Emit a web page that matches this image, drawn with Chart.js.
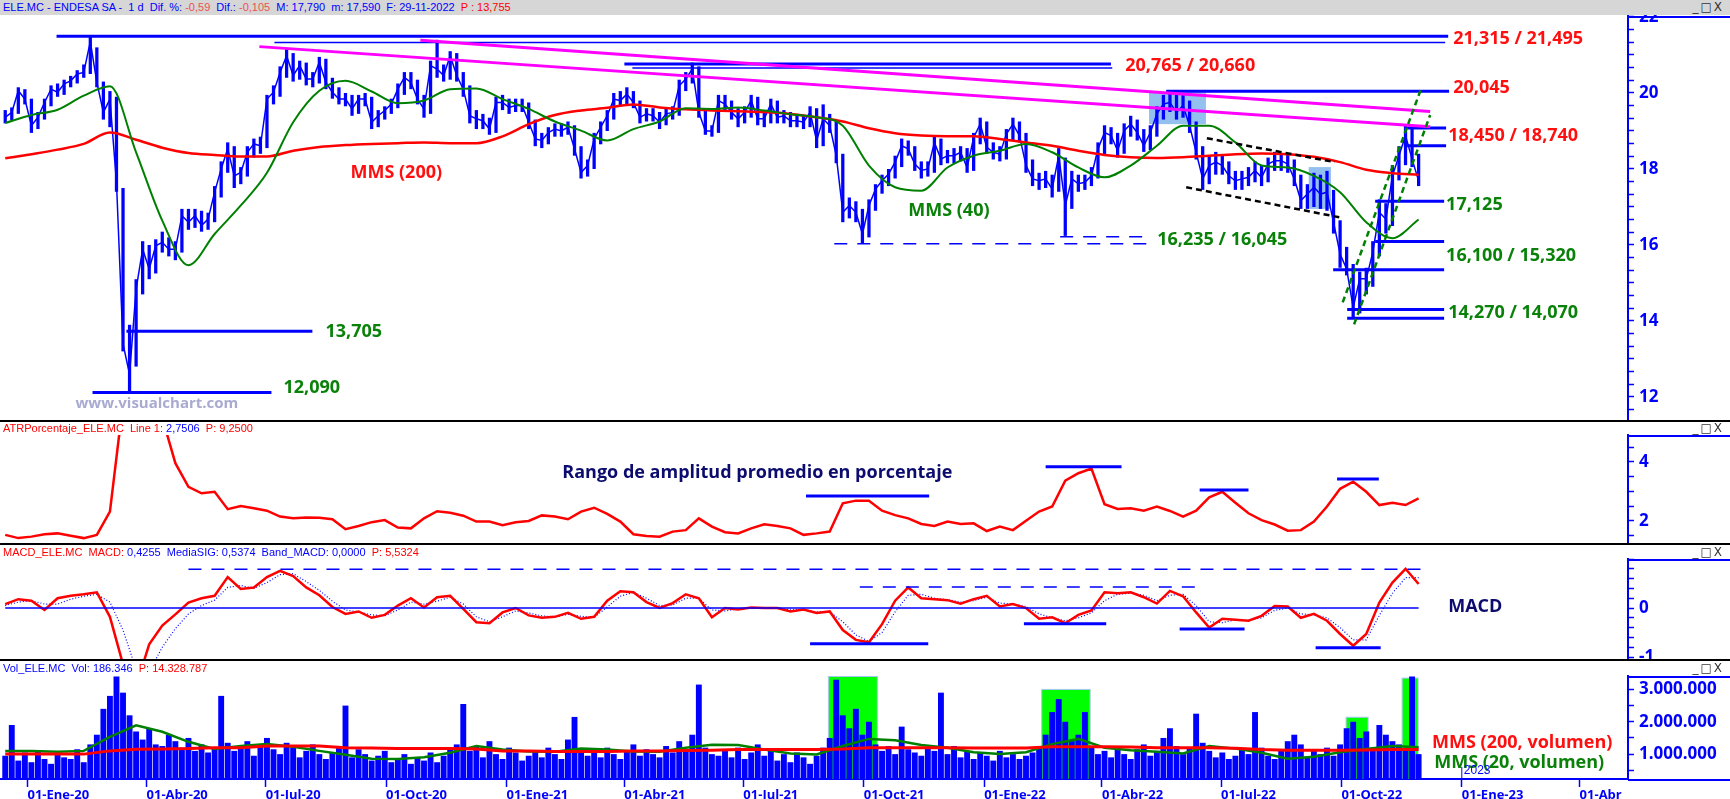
<!DOCTYPE html>
<html>
<head>
<meta charset="utf-8">
<script src="https://cdn.jsdelivr.net/npm/chart.js@4.4.0/dist/chart.umd.min.js"></script>
<style>
  body { margin: 0; background: #fff; width: 1730px; height: 799px; overflow: hidden; position: relative; font-family: "Liberation Sans", sans-serif; }
  canvas { position: absolute; left: 0; }
  #title { position: absolute; top: 0; left: 0; width: 1730px; height: 15px; background: #d6d6d6; z-index: 2; }
  .sep { position: absolute; left: 0; width: 1730px; height: 2px; background: #000; z-index: 2; }
  .hdr { position: absolute; left: 3px; font-size: 11px; line-height: 13px; white-space: pre; z-index: 3; }
  .win { position: absolute; right: 6px; font-size: 12px; line-height: 13px; font-family: "DejaVu Sans", sans-serif; color: #333; letter-spacing: 2px; z-index: 3; }
  .b { color: #0000ff; } .r { color: #ff0000; } .lr { color: #f05050; }
</style>
</head>
<body>
<canvas id="price" width="1730" height="407" style="top:14px"></canvas>
<canvas id="atr" width="1730" height="123" style="top:421px"></canvas>
<canvas id="macd" width="1730" height="116" style="top:544px"></canvas>
<canvas id="vol" width="1730" height="139" style="top:660px"></canvas>

<div id="title"></div>
<div class="hdr" style="top:1px"><span class="b">ELE.MC - ENDESA SA -  1 d  Dif. %: </span><span class="lr">-0,59</span><span class="b">  Dif.: </span><span class="lr">-0,105</span><span class="b">  M: 17,790  m: 17,590  F: 29-11-2022  </span><span class="r">P : 13,755</span></div>
<div class="win" style="top:1px">_□X</div>

<div class="sep" style="top:420px"></div>
<div class="hdr" style="top:422px"><span class="r">ATRPorcentaje_ELE.MC  Line 1: </span><span class="b">2,7506</span><span class="r">  P: 9,2500</span></div>
<div class="win" style="top:422px">_□X</div>

<div class="sep" style="top:543px"></div>
<div class="hdr" style="top:546px"><span class="r">MACD_ELE.MC  MACD: </span><span class="b">0,4255  MediaSIG: 0,5374  Band_MACD: 0,0000</span><span class="r">  P: 5,5324</span></div>
<div class="win" style="top:546px">_□X</div>

<div class="sep" style="top:659px"></div>
<div class="hdr" style="top:662px"><span class="b">Vol_ELE.MC  Vol: 186.346  </span><span class="r">P: 14.328.787</span></div>
<div class="win" style="top:662px">_□X</div>

<script>
// x values are days counted from 01-Ene-2020
const X_MIN = -21, X_MAX = 1223;

// quarter ticks on the date axis
const quarterDays = [0, 91, 182, 274, 366, 456, 547, 639, 731, 821, 912, 1004, 1096, 1186];
const quarterLabels = ['01-Ene-20', '01-Abr-20', '01-Jul-20', '01-Oct-20', '01-Ene-21', '01-Abr-21',
  '01-Jul-21', '01-Oct-21', '01-Ene-22', '01-Abr-22', '01-Jul-22', '01-Oct-22', '01-Ene-23', '01-Abr'];

// price, one sample every 5 days from 15-Dic-2019
const PRICE_START = -17, PRICE_STEP = 5;
const priceClose = [
  19.36, 19.49, 20.06, 19.84, 19.14, 19.36, 19.75, 20.10, 20.02, 20.24,
  20.32, 20.50, 20.54, 21.35, 20.28, 19.49, 19.84, 17.65, 13.40, 12.60,
  14.84, 15.89, 15.37, 15.98, 16.07, 15.89, 15.89, 16.77, 16.60, 16.77,
  16.51, 16.68, 17.39, 18.00, 18.53, 17.82, 17.91, 18.44, 18.66, 18.61,
  19.84, 20.02, 20.54, 20.98, 20.46, 20.72, 20.37, 20.37, 20.81, 20.28,
  20.02, 19.84, 19.84, 19.58, 19.84, 19.84, 19.23, 19.40, 19.54, 19.71,
  20.10, 20.41, 20.28, 19.84, 19.58, 20.72, 20.63, 20.46, 20.98, 20.46,
  20.10, 19.40, 19.32, 19.27, 19.05, 19.75, 19.75, 19.62, 19.67, 19.67,
  19.23, 18.79, 18.75, 18.96, 19.05, 19.00, 19.10, 18.53, 17.91, 18.09,
  18.79, 19.10, 19.40, 19.84, 19.80, 19.97, 19.75, 19.36, 19.45, 19.40,
  19.23, 19.45, 19.49, 20.19, 20.37, 20.63, 19.49, 19.00, 19.00, 19.80,
  19.71, 19.49, 19.32, 19.49, 19.80, 19.32, 19.32, 19.71, 19.36, 19.40,
  19.27, 19.27, 19.23, 19.49, 18.75, 19.32, 19.14, 18.35, 16.86, 17.04,
  16.86, 16.29, 17.04, 17.47, 17.69, 17.87, 18.18, 18.61, 18.53, 18.13,
  17.96, 18.00, 18.70, 18.26, 18.35, 18.35, 18.44, 18.04, 18.83, 19.18,
  18.57, 18.44, 18.39, 18.92, 19.18, 18.88, 18.09, 17.74, 17.69, 17.74,
  17.47, 18.35, 17.04, 17.74, 17.61, 17.65, 17.82, 18.53, 18.96, 18.88,
  18.48, 19.01, 19.18, 18.96, 18.61, 18.96, 19.45, 19.71, 19.75, 19.49,
  19.67, 19.14, 18.44, 17.74, 18.09, 18.18, 18.09, 17.82, 17.69, 17.74,
  17.78, 17.96, 17.78, 18.13, 18.22, 18.22, 18.13, 17.74, 17.17, 17.34,
  17.52, 17.34, 17.39, 16.60, 15.76, 15.37, 14.35, 15.11, 15.11, 15.81,
  16.86, 16.68, 17.82, 18.35, 18.88, 18.26, 17.69
];
const priceLow = [
  19.20, 19.28, 19.45, 19.70, 18.95, 19.05, 19.30, 19.65, 19.90, 19.95,
  20.15, 20.25, 20.40, 20.50, 20.15, 19.30, 19.10, 17.40, 13.20, 12.09,
  12.80, 14.70, 15.10, 15.25, 15.80, 15.70, 15.60, 15.80, 16.40, 16.45,
  16.35, 16.40, 16.60, 17.25, 17.90, 17.50, 17.60, 17.80, 18.30, 18.40,
  18.55, 19.70, 19.90, 20.40, 20.30, 20.35, 20.20, 20.15, 20.25, 20.10,
  19.85, 19.70, 19.65, 19.40, 19.45, 19.65, 19.05, 19.10, 19.30, 19.45,
  19.60, 19.95, 20.10, 19.70, 19.35, 19.45, 20.40, 20.30, 20.35, 20.30,
  19.90, 19.20, 19.05, 19.05, 18.90, 18.95, 19.55, 19.45, 19.50, 19.50,
  19.05, 18.60, 18.55, 18.65, 18.85, 18.85, 18.90, 18.35, 17.75, 17.80,
  18.00, 18.65, 19.00, 19.30, 19.65, 19.70, 19.60, 19.20, 19.25, 19.25,
  19.05, 19.15, 19.30, 19.40, 20.05, 20.25, 19.35, 18.90, 18.85, 18.95,
  19.55, 19.30, 19.10, 19.20, 19.35, 19.15, 19.10, 19.20, 19.20, 19.20,
  19.10, 19.10, 19.05, 19.10, 18.55, 18.60, 18.95, 18.15, 16.60, 16.70,
  16.60, 16.05, 16.20, 16.90, 17.35, 17.55, 17.75, 18.05, 18.35, 17.95,
  17.75, 17.80, 17.90, 18.10, 18.15, 18.15, 18.20, 17.90, 17.95, 18.65,
  18.40, 18.25, 18.20, 18.25, 18.75, 18.70, 17.90, 17.55, 17.45, 17.50,
  17.25, 17.40, 16.24, 16.95, 17.40, 17.45, 17.55, 17.75, 18.35, 18.65,
  18.30, 18.40, 18.85, 18.75, 18.45, 18.50, 18.85, 19.30, 19.50, 19.30,
  19.35, 18.95, 18.25, 17.45, 17.60, 17.85, 17.85, 17.60, 17.45, 17.45,
  17.55, 17.65, 17.55, 17.65, 17.95, 17.95, 17.90, 17.55, 16.95, 16.95,
  17.00, 16.95, 16.90, 16.30, 15.40, 15.20, 14.07, 14.20, 14.70, 14.90,
  15.70, 16.30, 16.50, 17.70, 18.10, 18.05, 17.55
];
const priceHigh = [
  19.55, 19.62, 20.15, 20.10, 19.85, 19.50, 19.85, 20.20, 20.25, 20.35,
  20.45, 20.60, 20.75, 21.50, 21.20, 20.30, 20.05, 19.90, 17.50, 13.90,
  15.10, 16.10, 16.00, 16.15, 16.35, 16.20, 16.10, 16.95, 16.95, 16.95,
  16.90, 16.85, 17.55, 18.20, 18.70, 18.60, 18.05, 18.60, 18.80, 18.85,
  19.95, 20.20, 20.70, 21.15, 21.05, 20.85, 20.80, 20.55, 20.95, 20.90,
  20.40, 20.15, 20.00, 19.95, 19.95, 20.00, 19.90, 19.55, 19.65, 19.85,
  20.25, 20.55, 20.55, 20.35, 19.95, 20.85, 21.40, 20.75, 21.10, 21.05,
  20.55, 20.20, 19.55, 19.45, 19.35, 19.90, 19.95, 19.85, 19.85, 19.85,
  19.75, 19.30, 18.95, 19.10, 19.20, 19.20, 19.25, 19.15, 18.60, 18.25,
  18.95, 19.25, 19.55, 20.00, 20.05, 20.15, 20.05, 19.80, 19.60, 19.60,
  19.50, 19.60, 19.65, 20.35, 20.55, 20.80, 20.70, 19.55, 19.15, 19.95,
  19.95, 19.80, 19.60, 19.65, 19.95, 19.90, 19.50, 19.85, 19.80, 19.55,
  19.50, 19.45, 19.40, 19.65, 19.60, 19.70, 19.45, 19.25, 18.40, 17.25,
  17.15, 16.95, 17.20, 17.60, 17.85, 18.00, 18.35, 18.80, 18.75, 18.60,
  18.20, 18.20, 18.85, 18.80, 18.50, 18.55, 18.60, 18.55, 18.95, 19.35,
  19.25, 18.70, 18.60, 19.05, 19.35, 19.25, 18.95, 18.25, 17.90, 17.95,
  17.85, 18.55, 18.30, 17.95, 17.85, 17.85, 18.05, 18.70, 19.15, 19.10,
  18.95, 19.20, 19.40, 19.30, 19.05, 19.15, 19.65, 19.95, 20.05, 19.95,
  19.95, 19.80, 19.25, 18.60, 18.35, 18.45, 18.35, 18.20, 17.95, 17.95,
  18.05, 18.20, 18.10, 18.30, 18.45, 18.40, 18.40, 18.25, 17.85, 17.60,
  17.90, 17.85, 17.95, 17.45, 16.65, 15.95, 15.50, 15.30, 15.40, 16.10,
  17.20, 17.10, 18.10, 18.60, 19.15, 19.10, 18.40
];

// daily volume (millions), same dates as the price samples
const volume = [
  0.95, 1.90, 0.80, 1.05, 0.75, 1.10, 0.85, 0.70, 1.00, 0.90,
  0.85, 1.15, 0.75, 1.30, 1.60, 2.40, 2.80, 3.40, 2.90, 2.20,
  1.70, 1.45, 1.80, 1.30, 1.25, 1.60, 1.40, 1.20, 1.50, 1.10,
  1.30, 1.05, 1.20, 2.80, 1.35, 1.10, 1.25, 1.40, 0.95, 1.30,
  1.50, 1.15, 1.00, 1.35, 1.20, 0.90, 1.10, 1.30, 1.00, 0.85,
  1.05, 1.25, 2.50, 0.90, 1.15, 1.00, 0.80, 0.95, 1.10, 0.75,
  0.85, 1.00, 0.70, 0.90, 0.80, 1.05, 0.75, 0.95, 1.15, 1.30,
  2.55, 1.10, 1.25, 0.90, 1.40, 1.00, 0.85, 1.20, 1.05, 0.80,
  0.95, 1.10, 0.90, 1.20, 1.00, 0.85, 1.45, 2.15, 1.10, 0.95,
  1.05, 0.90, 1.20, 1.00, 0.85, 1.10, 1.30, 0.95, 1.15, 1.00,
  0.90, 1.25, 1.05, 1.40, 1.10, 1.60, 3.15, 1.20, 1.00, 0.95,
  1.10, 0.90, 1.20, 0.85, 1.05, 1.30, 0.95, 1.15, 0.80, 1.00,
  0.75, 1.05, 0.90, 0.70, 0.95, 1.20, 1.50, 3.30, 2.20, 1.80,
  2.40, 1.60, 2.00, 1.30, 1.10, 1.25, 1.00, 1.85, 1.15, 1.05,
  0.95, 1.20, 1.10, 2.90, 1.00, 1.25, 0.90, 1.10, 0.85, 1.05,
  0.95, 0.80, 1.10, 0.90, 1.00, 0.85, 0.95, 1.05, 1.20, 1.60,
  2.30, 2.70, 2.00, 1.40, 1.60, 2.30, 1.20, 1.00, 1.10, 0.90,
  1.20, 1.00, 0.85, 1.15, 1.30, 0.95, 1.10, 1.50, 1.80, 1.25,
  1.00, 1.20, 2.25, 1.35, 1.10, 0.90, 1.05, 0.85, 0.95, 1.15,
  1.00, 2.30, 1.20, 0.95, 0.85, 1.10, 1.40, 1.60, 1.30, 0.90,
  1.15, 1.00, 1.20, 0.95, 1.30, 1.80, 2.00, 1.50, 1.70, 1.20,
  1.90, 1.60, 1.40, 1.30, 1.10, 3.40, 1.00
];

// moving averages, one every 20 days
const MA_START = -17, MA_STEP = 20;
const mms200 = [
  18.28, 18.39, 18.51, 18.66, 18.96, 18.77, 18.56, 18.42, 18.37, 18.33,
  18.33, 18.48, 18.58, 18.63, 18.66, 18.68, 18.70, 18.68, 18.68, 18.86,
  19.18, 19.42, 19.54, 19.61, 19.70, 19.62, 19.57, 19.54, 19.52, 19.50,
  19.45, 19.36, 19.25, 19.07, 18.94, 18.88, 18.86, 18.86, 18.79, 18.70,
  18.61, 18.48, 18.37, 18.31, 18.29, 18.31, 18.35, 18.39, 18.41, 18.39,
  18.32, 18.18, 17.98, 17.89, 17.85
];
const mms40 = [
  19.21, 19.42, 19.56, 19.93, 20.18, 18.44, 16.64, 15.47, 16.29, 17.04,
  17.90, 19.23, 20.06, 20.32, 20.04, 19.73, 19.80, 20.10, 20.12, 19.84,
  19.58, 19.25, 19.01, 18.75, 19.05, 19.25, 19.60, 19.58, 19.62, 19.54,
  19.44, 19.36, 19.14, 18.09, 17.52, 17.43, 18.04, 18.35, 18.48, 18.66,
  18.44, 18.04, 17.78, 18.09, 18.61, 19.14, 19.14, 18.70, 18.09, 18.04,
  17.82, 17.39, 16.60, 16.18, 16.67
];
const volMms20 = [
  1.10, 1.10, 1.07, 1.10, 1.53, 1.89, 1.69, 1.38, 1.16, 1.25,
  1.31, 1.23, 1.10, 0.98, 0.86, 0.85, 0.90, 1.04, 1.25, 1.14,
  1.08, 1.07, 1.17, 1.14, 1.08, 1.07, 1.20, 1.29, 1.28, 1.14,
  1.02, 0.99, 1.25, 1.47, 1.43, 1.28, 1.20, 1.06, 1.00, 1.06,
  1.31, 1.47, 1.20, 1.12, 1.07, 1.02, 1.25, 1.17, 1.04, 0.86,
  0.92, 1.06, 1.16, 1.25, 1.21
];
const volMms200 = [
  1.00, 1.00, 1.00, 1.00, 1.10, 1.15, 1.16, 1.17, 1.20, 1.20,
  1.25, 1.25, 1.25, 1.20, 1.19, 1.17, 1.17, 1.17, 1.16, 1.10,
  1.10, 1.08, 1.08, 1.08, 1.10, 1.10, 1.11, 1.12, 1.14, 1.14,
  1.14, 1.14, 1.16, 1.20, 1.20, 1.20, 1.20, 1.19, 1.19, 1.19,
  1.23, 1.23, 1.23, 1.22, 1.20, 1.20, 1.20, 1.18, 1.14, 1.12,
  1.12, 1.12, 1.13, 1.14, 1.14
];

// indicators, one every 10 days
const IND_START = -17, IND_STEP = 10;
const atrPct = [
  1.53, 1.42, 1.47, 1.55, 1.58, 1.50, 1.42, 1.53, 2.32, 6.00,
  8.50, 9.25, 5.50, 3.96, 3.16, 2.94, 2.99, 2.40, 2.51, 2.43,
  2.35, 2.15, 2.09, 2.12, 2.11, 2.06, 1.72, 1.83, 1.96, 2.03,
  1.78, 1.75, 2.09, 2.33, 2.28, 2.18, 1.98, 1.98, 1.86, 1.96,
  2.00, 2.19, 2.15, 2.06, 2.32, 2.45, 2.24, 1.98, 1.55, 1.49,
  1.47, 1.64, 1.69, 2.09, 1.81, 1.62, 1.58, 1.75, 1.89, 1.83,
  1.75, 1.53, 1.58, 1.64, 2.60, 2.69, 2.69, 2.35, 2.20, 2.09,
  1.90, 1.83, 1.98, 1.90, 1.92, 1.66, 1.81, 1.69, 2.01, 2.32,
  2.49, 3.37, 3.62, 3.78, 2.57, 2.41, 2.43, 2.35, 2.49, 2.34,
  2.15, 2.35, 2.80, 2.99, 2.62, 2.26, 2.03, 1.88, 1.67, 1.69,
  1.98, 2.49, 3.09, 3.33, 2.99, 2.54, 2.62, 2.54, 2.77
];
const macd = [
  0.08, 0.18, 0.15, -0.04, 0.20, 0.25, 0.28, 0.32, -0.18, -1.15,
  -1.60, -0.74, -0.36, -0.13, 0.11, 0.20, 0.25, 0.63, 0.39, 0.42,
  0.63, 0.76, 0.65, 0.42, 0.26, 0.02, -0.12, -0.07, -0.20, -0.14,
  0.05, 0.20, 0.01, 0.22, 0.25, -0.02, -0.29, -0.31, -0.09, 0.00,
  -0.15, -0.20, -0.18, -0.10, -0.22, -0.18, 0.15, 0.34, 0.32, 0.12,
  0.00, 0.10, 0.28, 0.20, -0.19, 0.00, -0.03, 0.01, 0.00, 0.00,
  -0.07, -0.03, -0.10, -0.07, -0.45, -0.65, -0.70, -0.33, 0.15, 0.42,
  0.20, 0.18, 0.16, 0.09, 0.18, 0.25, 0.03, 0.08, 0.00, -0.22,
  -0.19, -0.31, -0.14, -0.05, 0.32, 0.30, 0.32, 0.22, 0.09, 0.35,
  0.24, -0.09, -0.40, -0.22, -0.24, -0.26, -0.16, 0.04, 0.03, -0.20,
  -0.12, -0.26, -0.53, -0.77, -0.53, 0.11, 0.52, 0.80, 0.49
];
const macdSignal = [
  0.05, 0.12, 0.15, 0.08, 0.08, 0.18, 0.24, 0.28, 0.12, -0.45,
  -1.25, -1.30, -0.80, -0.42, -0.12, 0.05, 0.16, 0.42, 0.46, 0.40,
  0.52, 0.68, 0.70, 0.54, 0.36, 0.14, -0.04, -0.08, -0.14, -0.16,
  -0.04, 0.12, 0.08, 0.14, 0.22, 0.08, -0.18, -0.28, -0.18, -0.06,
  -0.10, -0.16, -0.18, -0.13, -0.17, -0.19, 0.02, 0.24, 0.32, 0.20,
  0.05, 0.06, 0.20, 0.20, -0.04, -0.06, -0.02, 0.00, 0.00, 0.00,
  -0.04, -0.04, -0.08, -0.08, -0.28, -0.55, -0.68, -0.50, -0.08, 0.26,
  0.28, 0.20, 0.17, 0.12, 0.15, 0.22, 0.10, 0.08, 0.03, -0.12,
  -0.20, -0.26, -0.20, -0.10, 0.15, 0.28, 0.30, 0.26, 0.15, 0.26,
  0.28, 0.05, -0.28, -0.30, -0.24, -0.25, -0.20, -0.05, 0.00, -0.12,
  -0.14, -0.20, -0.40, -0.65, -0.65, -0.15, 0.30, 0.62, 0.62
];

// axis tick labels
const priceTickLabels = [12, 14, 16, 18, 20, 22];
const atrTickLabels = [2, 4];
const macdTickLabels = [-1, 0];
const volTickValues = [1, 2, 3];
const volTickLabels = ['1.000.000', '2.000.000', '3.000.000'];

const BLUE = '#0000ff';
const RED = '#ff0000';
const GREEN = '#008000';
const MAGENTA = '#ff00ff';
const LABEL_RED = '#ff1010';
const LABEL_GREEN = '#0a820a';
const BIG = 'bold 18px "Open Sans"';
const NAVY = '#0c0c6e';

function pts(values, start, step) {
  return values.map((v, i) => ({ x: start + step * i, y: v }));
}

function spans(lows, highs, start, step) {
  return lows.map((lo, i) => ({ x: start + step * i, y: [lo, highs[i]] }));
}

function range(from, to, step) {
  const out = [];
  for (let v = from; v <= to + 1e-9; v += step) out.push(Math.round(v * 1000) / 1000);
  return out;
}

// Drawings placed in data coordinates (days, values).
function hline(v, x0, x1, color, width, dash) {
  return { type: 'line', x0, y0: v, x1, y1: v, color, width, dash };
}
function seg(x0, y0, x1, y1, color, width, dash) {
  return { type: 'line', x0, y0, x1, y1, color, width, dash };
}
function label(text, x, y, color, font) {
  return { type: 'text', text, x, y, color, font: font || BIG };
}
function box(x0, y0, x1, y1, fill, stroke) {
  return { type: 'box', x0, y0, x1, y1, fill, stroke };
}

function drawItems(chart, items) {
  const { ctx, chartArea: a } = chart;
  const x = chart.scales.x, y = chart.scales.y;
  items.forEach(it => {
    ctx.save();
    if (it.type === 'box') {
      ctx.beginPath();
      ctx.rect(a.left, a.top, a.right - a.left, a.bottom - a.top);
      ctx.clip();
      const px0 = x.getPixelForValue(it.x0), px1 = x.getPixelForValue(it.x1);
      const py0 = y.getPixelForValue(it.y0), py1 = y.getPixelForValue(it.y1);
      ctx.fillStyle = it.fill;
      ctx.fillRect(px0, py1, px1 - px0, py0 - py1);
      if (it.stroke) {
        ctx.strokeStyle = it.stroke;
        ctx.lineWidth = 1;
        ctx.strokeRect(px0, py1, px1 - px0, py0 - py1);
      }
    } else if (it.type === 'line') {
      ctx.strokeStyle = it.color;
      ctx.lineWidth = it.width || 1;
      ctx.setLineDash(it.dash || []);
      ctx.beginPath();
      ctx.moveTo(x.getPixelForValue(it.x0), y.getPixelForValue(it.y0));
      ctx.lineTo(x.getPixelForValue(it.x1), y.getPixelForValue(it.y1));
      ctx.stroke();
    } else if (it.type === 'text') {
      ctx.fillStyle = it.color;
      ctx.font = it.font;
      ctx.textAlign = 'left';
      ctx.textBaseline = 'middle';
      ctx.fillText(it.text, x.getPixelForValue(it.x), y.getPixelForValue(it.y));
    }
    ctx.restore();
  });
}

function overlay(back, front) {
  return {
    id: 'overlay',
    beforeDatasetsDraw(chart) { drawItems(chart, back); },
    afterDatasetsDraw(chart) { drawItems(chart, front); }
  };
}

// short horizontal line on top of the right axis
const axisTop = {
  id: 'axisTop',
  afterDraw(chart) {
    const { ctx, chartArea: a, width } = chart;
    ctx.save();
    ctx.strokeStyle = BLUE;
    ctx.lineWidth = 2;
    ctx.beginPath();
    ctx.moveTo(a.right, a.top + 1);
    ctx.lineTo(width, a.top + 1);
    ctx.stroke();
    ctx.restore();
  }
};

// bottom axis line runs under the right scale, plus the 2023 year mark
const yearMark = {
  id: 'yearMark',
  afterDraw(chart) {
    const { ctx, chartArea: a, width } = chart;
    const px = chart.scales.x.getPixelForValue(1096);
    ctx.save();
    ctx.strokeStyle = BLUE;
    ctx.lineWidth = 2;
    ctx.beginPath();
    ctx.moveTo(a.right, a.bottom + 1);
    ctx.lineTo(width, a.bottom + 1);
    ctx.stroke();
    ctx.lineWidth = 1;
    ctx.beginPath();
    ctx.moveTo(px, a.bottom - 12);
    ctx.lineTo(px, a.bottom);
    ctx.stroke();
    ctx.fillStyle = BLUE;
    ctx.font = '12px "Liberation Sans"';
    ctx.textBaseline = 'middle';
    ctx.fillText('2023', px + 2, a.bottom - 8);
    ctx.restore();
  }
};

function yAxis(min, max, ticks, labelFor) {
  return {
    position: 'right',
    min, max,
    afterBuildTicks: s => { s.ticks = ticks.map(v => ({ value: v })); },
    afterFit: s => { s.width = 102; s.paddingTop = 0; s.paddingBottom = 0; },
    border: { color: BLUE, width: 2 },
    grid: { drawOnChartArea: false, color: BLUE, tickLength: 6, tickWidth: 1.5 },
    ticks: {
      autoSkip: false,
      padding: 5,
      color: BLUE,
      font: { family: 'Open Sans', weight: 'bold', size: 17 },
      callback: labelFor
    }
  };
}

function hiddenX() {
  return { type: 'linear', min: X_MIN, max: X_MAX, display: false, offset: false };
}

function makeChart(id, padTop, datasets, scales, plugins) {
  return new Chart(document.getElementById(id), {
    type: 'line',
    data: { datasets },
    options: {
      responsive: false,
      animation: false,
      events: [],
      layout: { padding: { top: padTop, left: 0, right: 0, bottom: 0 } },
      plugins: { legend: { display: false }, tooltip: { enabled: false } },
      scales
    },
    plugins
  });
}

function lineSet(data, color, width, extra) {
  return Object.assign({ data, borderColor: color, borderWidth: width, pointRadius: 0, fill: false }, extra || {});
}

// ---------- price panel ----------
const priceBack = [
  box(857, 19.18, 900.5, 20.02, '#94c0f0'),
  box(979, 16.95, 996, 18.05, '#94c0f0')
];
const priceFront = [
  hline(21.495, 22.2, 1085.6, BLUE, 3),
  hline(21.33, 188.7, 1083.3, BLUE, 1.5),
  hline(20.765, 456.1, 827.9, BLUE, 3),
  hline(20.66, 462.2, 828.9, BLUE, 1.5),
  hline(20.045, 870.1, 1086.3, BLUE, 3),
  hline(19.08, 1054.2, 1084.0, BLUE, 3),
  hline(18.61, 1054.2, 1084.0, BLUE, 3),
  hline(17.15, 1029.8, 1082.5, BLUE, 3),
  hline(16.09, 1029.8, 1082.5, BLUE, 3),
  hline(15.35, 997.7, 1082.5, BLUE, 3),
  hline(14.30, 1008.4, 1082.5, BLUE, 3),
  hline(14.07, 1008.4, 1082.5, BLUE, 3),
  hline(13.73, 75.6, 217.7, BLUE, 3),
  hline(12.12, 49.7, 186.4, BLUE, 3),
  hline(16.03, 616.5, 859.4, BLUE, 1.5, [13, 10]),
  hline(16.22, 789.1, 857.9, BLUE, 1.5, [13, 10]),
  seg(177.2, 21.22, 1071.8, 19.11, MAGENTA, 3),
  seg(300.2, 21.39, 1071.8, 19.51, MAGENTA, 3),
  seg(901.2, 18.81, 999, 18.18, '#000000', 2.5, [6, 4]),
  seg(885.4, 17.52, 1003.8, 16.72, '#000000', 2.5, [6, 4]),
  seg(1005, 14.49, 1065, 20.12, GREEN, 2.5, [6, 4]),
  seg(1013.7, 13.91, 1071.8, 19.42, GREEN, 2.5, [6, 4]),
  label('21,315 / 21,495', 1089.4, 21.42, LABEL_RED),
  label('20,045', 1089.4, 20.13, LABEL_RED),
  label('18,450 / 18,740', 1085.6, 18.88, LABEL_RED),
  label('17,125', 1084, 17.05, LABEL_GREEN),
  label('16,100 / 15,320', 1084, 15.71, LABEL_GREEN),
  label('14,270 / 14,070', 1085.6, 14.21, LABEL_GREEN),
  label('20,765 / 20,660', 838.8, 20.72, LABEL_RED),
  label('16,235 / 16,045', 863.3, 16.13, LABEL_GREEN),
  label('MMS (200)', 246.8, 17.9, LABEL_RED),
  label('MMS (40)', 673, 16.9, LABEL_GREEN),
  label('13,705', 227.7, 13.71, LABEL_GREEN),
  label('12,090', 195.6, 12.24, LABEL_GREEN),
  label('www.visualchart.com', 36.7, 11.82, '#a8aad0', 'bold 15px "Open Sans"')
];

makeChart('price', 2, [
  lineSet(pts(mms40, MA_START, MA_STEP), GREEN, 2, { cubicInterpolationMode: 'monotone', order: 0 }),
  lineSet(pts(mms200, MA_START, MA_STEP), RED, 2.5, { cubicInterpolationMode: 'monotone', order: 1 }),
  lineSet(pts(priceClose, PRICE_START, PRICE_STEP), BLUE, 1.5, { order: 2 }),
  {
    type: 'bar',
    data: spans(priceLow, priceHigh, PRICE_START, PRICE_STEP),
    backgroundColor: BLUE,
    borderWidth: 0,
    categoryPercentage: 1,
    barPercentage: 0.5,
    order: 3
  }
], {
  x: hiddenX(),
  y: yAxis(11.368, 22.026, range(35 / 3, 22, 1 / 3),
    v => priceTickLabels.some(t => Math.abs(t - v) < 1e-3) ? String(Math.round(v)) : '')
}, [overlay(priceBack, priceFront), axisTop]);

// ---------- ATR panel ----------
const atrFront = [
  hline(2.85, 594.9, 689, BLUE, 3),
  hline(3.84, 778, 836, BLUE, 3),
  hline(3.05, 895.7, 933, BLUE, 3),
  hline(3.42, 1000.7, 1032.6, BLUE, 3),
  label('Rango de amplitud promedio en porcentaje', 408.7, 3.63, NAVY)
];
makeChart('atr', 14, [
  lineSet(pts(atrPct, IND_START, IND_STEP), RED, 2.5)
], {
  x: hiddenX(),
  y: yAxis(1.22, 4.915, range(1.5, 4.5, 0.5),
    v => atrTickLabels.some(t => Math.abs(t - v) < 1e-3) ? String(Math.round(v)) : '')
}, [overlay([], atrFront), axisTop]);

// ---------- MACD panel ----------
const macdFront = [
  hline(0, -17, 1063, BLUE, 1.5),
  hline(0.79, 123, 1072, BLUE, 1.5, [13, 10]),
  hline(0.43, 636, 898.2, BLUE, 1.5, [13, 10]),
  hline(-0.73, 598, 688.3, BLUE, 3),
  hline(-0.32, 761.4, 824.3, BLUE, 3),
  hline(-0.43, 880.4, 930, BLUE, 3),
  hline(-0.81, 984.3, 1034, BLUE, 3),
  label('MACD', 1085.6, 0.03, NAVY)
];
makeChart('macd', 15, [
  lineSet(pts(macd, IND_START, IND_STEP), RED, 2.5, { order: 0 }),
  lineSet(pts(macdSignal, IND_START, IND_STEP), BLUE, 1.2, { borderDash: [1, 2], order: 1 })
], {
  x: hiddenX(),
  y: yAxis(-1.061, 1.0, range(-1, 1, 0.2),
    v => macdTickLabels.some(t => Math.abs(t - v) < 1e-3) ? String(Math.round(v)) : '')
}, [overlay([], macdFront), axisTop]);

// ---------- volume panel ----------
const volBack = [
  box(612, 0, 649.4, 3.4, '#00ff00', '#a8c8f0'),
  box(775, 0, 812, 3.0, '#00ff00', '#a8c8f0'),
  box(1007.6, 0, 1024.4, 2.14, '#00ff00', '#a8c8f0'),
  box(1050.4, 0, 1062.6, 3.35, '#00ff00', '#a8c8f0')
];
const volFront = [
  label('MMS (200, volumen)', 1073.3, 1.34, LABEL_RED),
  label('MMS (20, volumen)', 1074.9, 0.72, LABEL_GREEN)
];
makeChart('vol', 16, [
  lineSet(pts(volMms200, MA_START, MA_STEP), RED, 3, { order: 0 }),
  lineSet(pts(volMms20, MA_START, MA_STEP), GREEN, 2.5, { order: 1 }),
  {
    type: 'bar',
    data: pts(volume, PRICE_START, PRICE_STEP),
    backgroundColor: BLUE,
    borderWidth: 0,
    categoryPercentage: 1,
    barPercentage: 0.9,
    order: 2
  }
], {
  x: {
    type: 'linear', min: X_MIN, max: X_MAX, position: 'bottom', offset: false,
    afterBuildTicks: s => { s.ticks = quarterDays.map(v => ({ value: v })); },
    afterFit: s => { s.height = 20; },
    border: { color: BLUE, width: 2 },
    grid: { drawOnChartArea: false, offset: false, color: BLUE, tickLength: 8, tickWidth: 1.5 },
    ticks: {
      autoSkip: false, maxRotation: 0, align: 'start', padding: 0, color: BLUE,
      font: { family: 'Open Sans', weight: 'bold', size: 13 },
      callback: (v, i) => quarterLabels[i]
    }
  },
  y: yAxis(0.2308, 3.415, range(0.5, 3, 0.5), v => {
    const k = volTickValues.findIndex(t => Math.abs(t - v) < 1e-3);
    return k >= 0 ? volTickLabels[k] : '';
  })
}, [overlay(volBack, volFront), axisTop, yearMark]);
</script>
</body>
</html>
